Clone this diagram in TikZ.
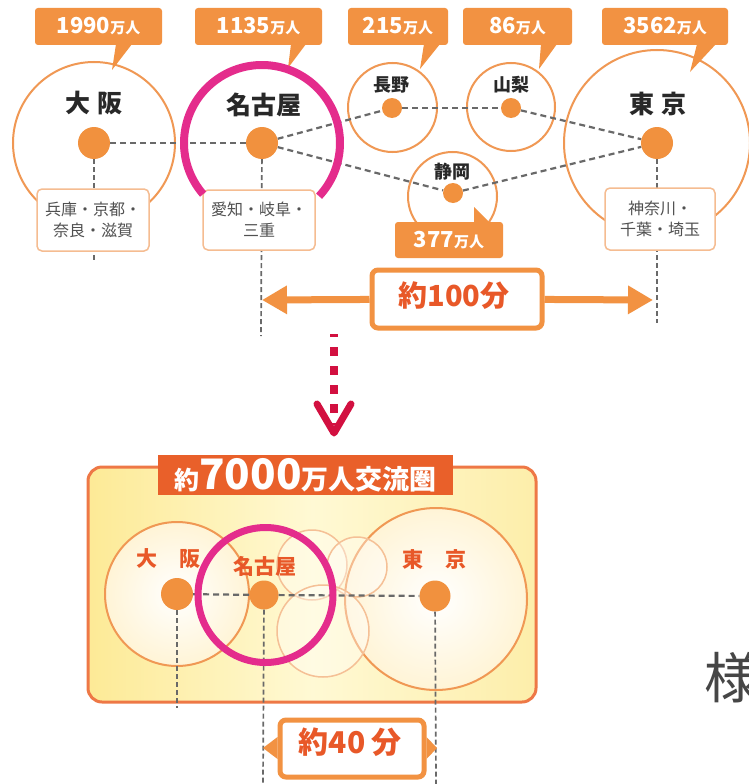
\documentclass[tikz,border=0pt]{standalone}
\usepackage{fontspec}
\setmainfont{Noto Sans CJK JP}
\usetikzlibrary{arrows.meta,calc}
\pgfdeclarelayer{bg}\pgfdeclarelayer{ln}
\pgfsetlayers{bg,ln,main}
\newcommand\myfs[1]{\fontsize{#1}{#1}\selectfont}
\definecolor{lblO}{RGB}{242,146,66}
\definecolor{circO}{RGB}{240,152,84}
\definecolor{dotO}{RGB}{241,145,62}
\definecolor{subB}{RGB}{245,188,145}
\definecolor{txtG}{RGB}{80,80,80}
\definecolor{txtK}{RGB}{40,40,40}
\definecolor{dashG}{RGB}{105,105,105}
\definecolor{magR}{RGB}{228,44,140}
\definecolor{crimR}{RGB}{210,16,64}
\definecolor{redO}{RGB}{232,88,40}
\definecolor{bigB}{RGB}{238,120,70}
\definecolor{ttlF}{RGB}{233,96,42}
\definecolor{yL}{RGB}{253,234,150}
\definecolor{yM}{RGB}{255,249,212}
\definecolor{yR}{RGB}{253,238,170}
\definecolor{creamO}{RGB}{255,244,214}
\definecolor{paleO}{RGB}{245,192,150}
\definecolor{yoG}{RGB}{70,70,70}
\tikzset{
  lbl/.style={rectangle, rounded corners=3pt, fill=lblO, text=white, font=\bfseries, inner sep=0, minimum height=37pt},
  city/.style={circle, draw=circO, line width=2pt, fill=white, inner sep=0},
  city2/.style={circle, draw=circO, line width=2pt, inner color=white, outer color=creamO, inner sep=0},
  pale/.style={circle, draw=paleO, line width=1.5pt, fill=white, fill opacity=0.35, inner sep=0},
  dot/.style={circle, fill=dotO, inner sep=0},
  sub/.style={rectangle, rounded corners=5pt, draw=subB, line width=1.5pt, fill=white, text=txtG, align=center, font=\fontsize{16}{21}\selectfont, inner sep=0},
  dline/.style={draw=dashG, line width=2.2pt, dash pattern=on 6pt off 4pt},
  vline/.style={draw=dashG, line width=1.7pt, dash pattern=on 5pt off 3pt},
  cname/.style={font=\myfs{25}\bfseries, text=txtK, inner sep=0},
  sname/.style={font=\myfs{18}\bfseries, text=txtK, inner sep=0},
  bname/.style={font=\myfs{21}\bfseries, text=redO, inner sep=0},
  tbox/.style={rectangle, rounded corners=6pt, draw=lblO, line width=5pt, fill=white, inner sep=0},
}
\begin{document}
\begin{tikzpicture}[x=1pt,y=-1pt]
\useasboundingbox (0,0) rectangle (749,784);
% ---------- top: circles
\begin{pgfonlayer}{bg}
\fill[white] (0,0) rectangle (749,784);
\node[city, minimum size=162pt] (osC) at (94,143) {};
\node[city, minimum size=89pt] (nnC) at (392.5,107.5) {};
\node[city, minimum size=88pt] (ymC) at (511,107) {};
\node[city, minimum size=89pt] (szC) at (452.5,196.5) {};
\node[city, minimum size=186pt] (tkC) at (657,143) {};
\end{pgfonlayer}
% labels with tails
\node[lbl, minimum width=127pt] (osL) at (98.5,26.5) {\myfs{22}1990\myfs{15}万人};
\fill[lblO] (116,44) -- (132,44) -- (112,70) -- cycle;
\node[lbl, minimum width=127pt] (ngL) at (258.5,26.5) {\myfs{22}1135\myfs{15}万人};
\fill[lblO] (291,44) -- (306,44) -- (288,68) -- cycle;
\node[lbl, minimum width=100pt] (nnL) at (398,26.5) {\myfs{22}215\myfs{15}万人};
\fill[lblO] (424,44) -- (440,44) -- (420,69) -- cycle;
\node[lbl, minimum width=109pt] (ymL) at (517.5,26.5) {\myfs{22}86\myfs{15}万人};
\fill[lblO] (541,44) -- (557,44) -- (539,69) -- cycle;
\node[lbl, minimum width=126pt] (tkL) at (665,26.5) {\myfs{22}3562\myfs{15}万人};
\fill[lblO] (697,44) -- (716,44) -- (690,72) -- cycle;
\node[lbl, minimum width=108pt, minimum height=36pt] (szL) at (449,240) {\myfs{22}377\myfs{15}万人};
\fill[lblO] (474,223) -- (490,223) -- (474,207) -- cycle;
% dots
\node[dot, minimum size=32pt] (osD) at (94,143) {};
\node[dot, minimum size=32pt] (ngD) at (262,143) {};
\node[dot, minimum size=20pt] (nnD) at (392,108) {};
\node[dot, minimum size=20pt] (ymD) at (511,108) {};
\node[dot, minimum size=20pt] (szD) at (453,193) {};
\node[dot, minimum size=32pt] (tkD) at (657,143) {};
\coordinate (osE) at (94,263);
\coordinate (ngE) at (261,336);
\coordinate (tkE) at (657,323);
\begin{pgfonlayer}{ln}
\draw[dline] (osD) -- (ngD);
\draw[dline] (ngD) -- (nnD);
\draw[dline] (ngD) -- (szD);
\draw[dline] (nnD) -- (ymD);
\draw[dline] (ymD) -- (tkD);
\draw[dline] (szD) -- (tkD);
\draw[vline] (osD) -- (osE);
\draw[vline] (ngD) -- (ngE);
\draw[vline] (tkD) -- (tkE);
\end{pgfonlayer}
% sub boxes
\node[sub, minimum width=112pt, minimum height=62pt] (osS) at (93,220) {兵庫・京都・\\奈良・滋賀};
\node[sub, minimum width=112pt, minimum height=60pt] (ngS) at (259,220) {愛知・岐阜・\\三重};
\node[sub, minimum width=110pt, minimum height=62pt] (tkS) at (660,219) {神奈川・\\千葉・埼玉};
% names
\node[cname] (osN) at (94,103) {大\hspace{7pt}阪};
\node[cname] (ngN) at (264,105) {名古屋};
\node[cname] (tkN) at (658,104) {東\hspace{7pt}京};
\node[sname] (nnN) at (391,85) {長野};
\node[sname] (ymN) at (511,85) {山梨};
\node[sname] (szN) at (452,172) {静岡};
% magenta arc
\draw[magR, line width=8pt] ($(ngD)+(139:78)$) arc[start angle=139, end angle=403, radius=78];
% ---------- 100 min arrow
\coordinate (a1) at (262,300);
\coordinate (a2) at (653,300);
\node[tbox, minimum width=170pt, minimum height=58pt] (t100) at (457,299) {};
\begin{pgfonlayer}{ln}
\draw[lblO, line width=7pt, -{Triangle[length=25pt,width=27pt]}] (t100) -- (a1);
\draw[lblO, line width=7pt, -{Triangle[length=25pt,width=27pt]}] (t100) -- (a2);
\end{pgfonlayer}
\node[font=\myfs{29}\bfseries, text=redO, inner sep=0] (t100txt) at (454,296) {約100分};
% ---------- crimson dotted arrow
\coordinate (c1) at (334,334);
\coordinate (c2) at (334,433);
\draw[crimR, line width=8pt, dash pattern=on 9pt off 10pt, dash phase=6pt] (c1) -- ($(c2)+(0,-8)$);
\draw[crimR, line width=7pt, line cap=round, line join=round] (317,404) -- (c2) -- (351,404);
% ---------- bottom box
\shade[rounded corners=14pt, left color=yL, right color=yR, middle color=yM] (88,467) rectangle (536,702);
\draw[bigB, line width=3pt, rounded corners=14pt] (88,467) rectangle (536,702);
\node[rectangle, fill=ttlF, text=white, font=\bfseries, inner sep=0, minimum width=295pt, minimum height=40pt] (ttl) at (305.5,475)
  {\myfs{25}約\myfs{42}7000\myfs{27}万人交流圏};
% circles
\node[city2, minimum size=144pt] (osC2) at (177,594) {};
\node[city2, minimum size=182pt] (tkC2) at (436,599) {};
\node[pale, minimum size=70pt] (nnC2) at (312,565) {};
\node[pale, minimum size=60pt] (ymC2) at (357,567) {};
\node[pale, minimum size=92pt] (szC2) at (323,631) {};
% dots
\node[dot, minimum size=32pt] (osD2) at (177,594) {};
\node[dot, minimum size=29pt] (ngD2) at (264,595) {};
\node[dot, minimum size=31pt] (tkD2) at (435,596) {};
\coordinate (osE2) at (177,708);
\coordinate (ngE2) at (263,784);
\coordinate (tkE2) at (436,784);
\draw[dline] (osD2) -- (ngD2);
\draw[dline] (ngD2) -- (tkD2);
\draw[vline] (osD2) -- (osE2);
\draw[vline] (ngD2) -- (ngE2);
\draw[vline] (tkD2) -- (tkE2);
% names
\node[bname] (osN2) at (168.5,559) {大\hspace{23pt}阪};
\node[bname] (ngN2) at (265,566) {名古屋};
\node[bname] (tkN2) at (434.5,560) {東\hspace{22pt}京};
% magenta ring
\draw[magR, line width=7pt] (265.5,595) circle[radius=67.5];
% ---------- 40 min box
\node[tbox, minimum width=144pt, minimum height=57pt] (t40) at (352,748.5) {};
\fill[lblO] (t40.west |- 0,737) -- (t40.west |- 0,759) -- (ngE2 |- 0,748) -- cycle;
\fill[lblO] (t40.east |- 0,737) -- (t40.east |- 0,759) -- (437,748) -- cycle;
\node[font=\myfs{30}\bfseries, text=redO, inner sep=0] (t40txt) at (350,742) {約40\hspace{6pt}分};
% ---------- clipped character
\node[anchor=west, font=\myfs{55}, text=yoG, inner sep=0] (yo) at (704,678) {様};
\end{tikzpicture}
\end{document}
